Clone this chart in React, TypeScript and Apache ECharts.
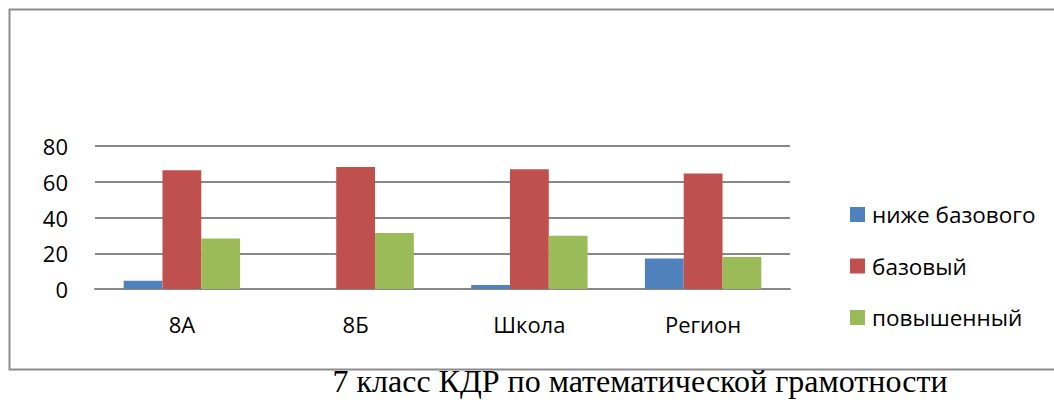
import React, { useEffect, useRef } from "react";
import * as echarts from "echarts";

const categories = ["8А", "8Б", "Школа", "Регион"];
const seriesNames = ["ниже базового", "базовый", "повышенный"];
const belowBasic = [4.6, 0, 2.2, 17.1];
const basic = [66.5, 68.2, 67.0, 64.6];
const advanced = [28.3, 31.3, 29.8, 17.9];
const yTicks = { min: 0, max: 80, interval: 20 };
const titleText = "7 класс КДР по математической грамотности";

const colors = ["#4F81BD", "#C0504D", "#9BBB59"];
const FONT = "'Open Sans', 'Noto Sans', sans-serif";

export default function App() {
  const ref = useRef<HTMLDivElement>(null);
  useEffect(() => {
    const chart = echarts.init(ref.current!, undefined, { renderer: "svg" });
    const data = [belowBasic, basic, advanced];
    chart.setOption({
      animation: false,
      backgroundColor: "#ffffff",
      grid: { left: 95, right: 264, top: 146, bottom: 114, containLabel: false },
      legend: {
        orient: "vertical",
        left: 850,
        top: 203,
        padding: 0,
        itemWidth: 15,
        itemHeight: 15,
        itemGap: 28.5,
        icon: "rect",
        textStyle: {
          fontFamily: FONT,
          fontSize: 22.5,
          color: "#000",
          padding: [0, 0, 0, 2],
        },
        data: seriesNames,
      },
      xAxis: {
        type: "category",
        data: categories,
        axisLine: { show: true, lineStyle: { color: "#888888", width: 2 } },
        axisTick: { show: false },
        axisLabel: { fontFamily: FONT, fontSize: 22, color: "#000", margin: 24 },
      },
      yAxis: {
        type: "value",
        min: yTicks.min,
        max: yTicks.max,
        interval: yTicks.interval,
        axisLine: { show: false },
        axisTick: { show: false },
        splitLine: { lineStyle: { color: "#888888", width: 2 } },
        axisLabel: { fontFamily: FONT, fontSize: 22, color: "#000", margin: 27 },
      },
      series: seriesNames.map((name, i) => ({
        name,
        type: "bar",
        data: data[i],
        barGap: "0%",
        barCategoryGap: "33%",
        itemStyle: { color: colors[i] },
      })),
      graphic: [
        {
          type: "rect",
          shape: { x: 9.5, y: 9.5, width: 1060, height: 360 },
          style: { fill: "none", stroke: "#8c8c8c", lineWidth: 2 },
          silent: true,
        },
        {
          type: "text",
          x: 640,
          y: 397,
          style: {
            text: titleText,
            fontFamily: "'Liberation Serif', 'DejaVu Serif', serif",
            fontSize: 32,
            fill: "#000",
            textAlign: "center",
            textVerticalAlign: "bottom",
          },
        },
      ],
    });
    return () => chart.dispose();
  }, []);
  return (
    <div
      ref={ref}
      style={{ position: "absolute", left: 0, top: 0, width: 1054, height: 403 }}
    />
  );
}
